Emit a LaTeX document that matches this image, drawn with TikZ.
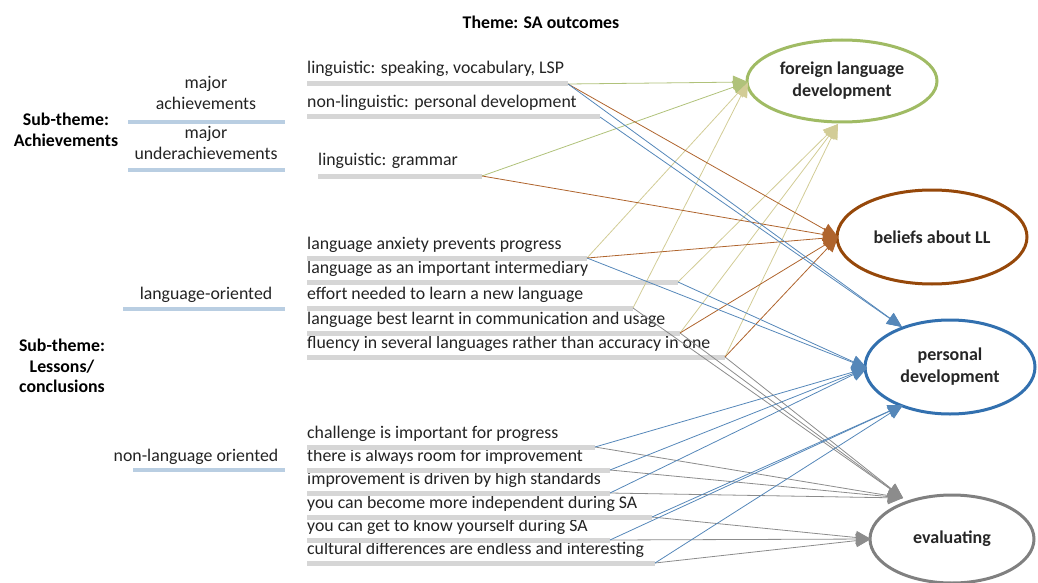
\documentclass[tikz,border=0pt]{standalone}
\usepackage{fontspec}
\setmainfont{Carlito}
\usetikzlibrary{arrows.meta,shapes.geometric}
\definecolor{fldgreen}{RGB}{160,187,100}
\definecolor{topgreen}{RGB}{176,194,122}
\definecolor{palegreen}{RGB}{210,204,150}
\definecolor{brownline}{RGB}{175,100,45}
\definecolor{brownring}{RGB}{150,72,10}
\definecolor{blueline}{RGB}{85,135,185}
\definecolor{bluering}{RGB}{50,112,175}
\definecolor{grayline}{RGB}{140,140,140}
\definecolor{grayring}{RGB}{128,128,128}
\definecolor{barblue}{RGB}{185,206,226}
\definecolor{bargray}{RGB}{214,214,214}
\definecolor{txt}{RGB}{35,35,35}
\begin{document}
\begin{tikzpicture}[x=1pt,y=-1pt,
  item/.style={anchor=west,inner sep=0pt,text=txt,font=\fontsize{17.8}{20}\selectfont},
  sublabel/.style={align=center,inner sep=0pt,text=txt,font=\fontsize{17.8}{21}\selectfont},
  theme/.style={align=center,inner sep=0pt,text=black,font=\bfseries\fontsize{17.8}{20.5}\selectfont},
  itembar/.style={line width=5pt,bargray},
  subbar/.style={line width=4pt,barblue},
  outcome/.style={ellipse,line width=3pt,fill=white,align=center,inner sep=0pt,
     font=\bfseries\fontsize{18}{22}\selectfont,text=black!85},
  conn/.style={line width=0.8pt,-{Triangle[length=15pt,width=13pt]}},
]
\useasboundingbox (0,0) rectangle (1038,583);

% title
\node[theme] (title) at (541,22) {Theme: SA outcomes};

% left labels
\node[theme] (subA) at (66,130) {Sub-theme:\\Achievements};
\node[theme] (subL) at (62,366) {Sub-theme:\\Lessons/\\conclusions};
\node[sublabel] (majA) at (206,93) {major\\achievements};
\node[sublabel] (majU) at (206,143) {major\\underachievements};
\node[sublabel] (langO) at (206,295) {language-oriented};
\node[sublabel] (nonL) at (196,457) {non-language oriented};
\draw[subbar] (128,122) -- (285,122);
\draw[subbar] (128,170) -- (285,170);
\draw[subbar] (123,309) -- (285,309);
\draw[subbar] (133,470) -- (285,470);

% outcome ellipses
\node[outcome,draw=fldgreen,minimum width=190pt,minimum height=82pt] (fld) at (842,81) {foreign language\\development};
\node[outcome,draw=brownring,minimum width=190pt,minimum height=94pt] (bel) at (932,237) {beliefs about LL};
\node[outcome,draw=bluering,minimum width=170pt,minimum height=94pt] (pd) at (950,367) {personal\\development};
\node[outcome,draw=grayring,minimum width=164pt,minimum height=88pt] (ev) at (952,539) {evaluating};

% arrow tips
\coordinate (fA) at (748,82);
\coordinate (fB) at (838,124);
\coordinate (bA) at (838,237);
\coordinate (pA) at (902,327);
\coordinate (pB) at (867,368);
\coordinate (pC) at (903,405);
\coordinate (vA) at (903,498);
\coordinate (vB) at (871,539);

% items
\node[item] (i1) at (307,69) {linguistic: speaking, vocabulary, LSP};
\node[item] (i2) at (307,103) {non-linguistic: personal development};
\node[item] (i3) at (318,161) {linguistic: grammar};
\node[item] (i4) at (307,245) {language anxiety prevents progress};
\node[item] (i5) at (307,269) {language as an important intermediary};
\node[item] (i6) at (307,295) {effort needed to learn a new language};
\node[item] (i7) at (307,320) {language best learnt in communication and usage};
\node[item] (i8) at (307,344) {fluency in several languages rather than accuracy in one};
\node[item] (i9) at (307,434) {challenge is important for progress};
\node[item] (i10) at (307,457) {there is always room for improvement};
\node[item] (i11) at (307,480) {improvement is driven by high standards};
\node[item] (i12) at (307,504) {you can become more independent during SA};
\node[item] (i13) at (307,527) {you can get to know yourself during SA};
\node[item] (i14) at (307,550) {cultural differences are endless and interesting};

\draw[itembar] (307,84) -- (568,84) coordinate (e1);
\draw[itembar] (307,117) -- (600,117) coordinate (e2);
\draw[itembar] (318,176) -- (482,176) coordinate (e3);
\draw[itembar] (307,258) -- (587,258) coordinate (e4);
\draw[itembar] (307,282) -- (678,282) coordinate (e5);
\draw[itembar] (307,308) -- (633,308) coordinate (e6);
\draw[itembar] (307,333) -- (680,333) coordinate (e7);
\draw[itembar] (307,357) -- (725,357) coordinate (e8);
\draw[itembar] (307,447) -- (595,447) coordinate (e9);
\draw[itembar] (307,470) -- (610,470) coordinate (e10);
\draw[itembar] (307,493) -- (610,493) coordinate (e11);
\draw[itembar] (307,517) -- (652,517) coordinate (e12);
\draw[itembar] (307,540) -- (610,540) coordinate (e13);
\draw[itembar] (307,563) -- (655,563) coordinate (e14);

% connectors: foreign language development
\draw[conn,palegreen] (e4) -- (fA);
\draw[conn,palegreen] (e6) -- (fA);
\draw[conn,palegreen] (e5) -- (fB);
\draw[conn,palegreen] (e7) -- (fB);
\draw[conn,palegreen] (e8) -- (fB);
\draw[conn,topgreen] (e3) -- (fA);
\draw[conn,topgreen] (e1) -- (fA);

% evaluating
\draw[conn,grayline] (e6) -- (vA);
\draw[conn,grayline] (e7) -- (vA);
\draw[conn,grayline] (e8) -- (vA);
\draw[conn,grayline] (e9) -- (vA);
\draw[conn,grayline] (e10) -- (vA);
\draw[conn,grayline] (e11) -- (vA);
\draw[conn,grayline] (e12) -- (vB);
\draw[conn,grayline] (e13) -- (vB);
\draw[conn,grayline] (e14) -- (vB);

% beliefs about LL
\draw[conn,brownline] (e1) -- (bA);
\draw[conn,brownline] (e3) -- (bA);
\draw[conn,brownline] (e4) -- (bA);
\draw[conn,brownline] (e7) -- (bA);
\draw[conn,brownline] (e8) -- (bA);

% personal development
\draw[conn,blueline] (e1) -- (pA);
\draw[conn,blueline] (e2) -- (pA);
\draw[conn,blueline] (e4) -- (pB);
\draw[conn,blueline] (e5) -- (pB);
\draw[conn,blueline] (e9) -- (pB);
\draw[conn,blueline] (e10) -- (pB);
\draw[conn,blueline] (e11) -- (pB);
\draw[conn,blueline] (e12) -- (pC);
\draw[conn,blueline] (e13) -- (pC);
\draw[conn,blueline] (e14) -- (pC);

\end{tikzpicture}
\end{document}
